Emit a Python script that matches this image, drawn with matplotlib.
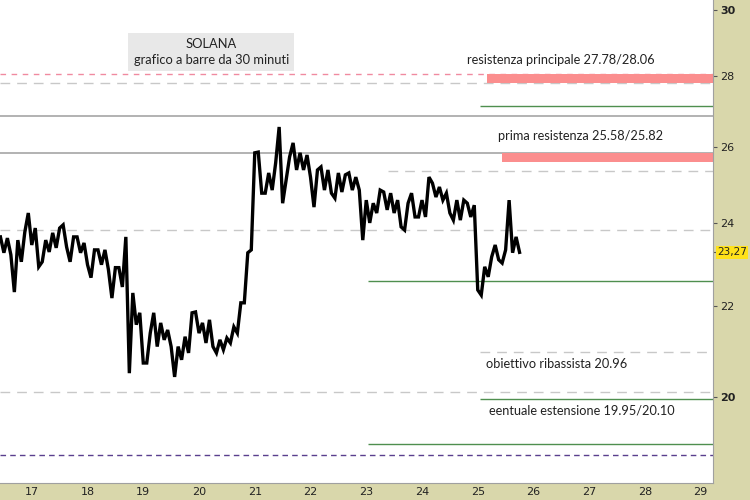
import numpy as np
import matplotlib
matplotlib.use('Agg')
import matplotlib.pyplot as plt
from matplotlib.transforms import blended_transform_factory

# barre da 3 ore (massimi / minimi)
start_day = 16.4375
bar_step = 0.125
highs = [23.65, 23.62, 23.57, 23.77, 24.25, 23.87, 23.57, 23.75, 23.87, 23.95,
         23.65, 23.65, 23.50, 23.33, 23.33, 23.33, 22.90, 22.90, 23.65, 22.30,
         21.84, 21.38, 21.84, 21.61, 21.45, 21.08, 21.30, 21.84, 21.86, 21.61,
         21.68, 21.23, 21.27, 21.52, 22.07, 23.26, 25.83, 25.85, 25.29, 25.56,
         26.54, 25.72, 26.10, 25.83, 25.77, 25.37, 25.45, 25.37, 25.29, 25.24,
         25.29, 25.18, 24.58, 24.50, 24.84, 24.79, 24.76, 24.58, 24.50, 24.76,
         24.58, 25.18, 25.02, 24.92, 24.76, 24.58, 24.58, 24.50, 24.45, 22.92,
         23.16, 23.45, 23.33, 24.58, 23.65]
lows = [23.26, 23.21, 22.32, 23.04, 23.45, 22.92, 23.04, 23.28, 23.38, 23.40,
        23.04, 23.26, 22.97, 22.66, 22.97, 22.85, 22.18, 22.44, 20.50, 21.57,
        20.72, 20.72, 21.08, 21.23, 21.08, 20.42, 20.79, 20.94, 21.38, 21.16,
        21.08, 20.94, 21.01, 21.16, 21.38, 22.07, 23.33, 24.76, 24.76, 24.84,
        24.50, 25.10, 25.37, 25.37, 25.18, 24.40, 24.84, 24.76, 24.63, 24.79,
        24.84, 24.84, 23.57, 24.00, 24.25, 24.33, 24.25, 23.90, 23.82, 24.15,
        24.15, 24.15, 24.66, 24.58, 24.25, 24.07, 24.07, 24.15, 22.37, 22.25,
        22.68, 23.09, 23.01, 23.26, 23.27]
last_price = 23.27

days = list(range(17, 30))
yticks = [20, 22, 24, 26, 28, 30]

# livelli
res_main = (27.78, 28.06)
res_first = (25.58, 25.82)
target = 20.96
ext = (19.95, 20.10)
gray_dashed_full = [27.78, 23.82, 20.10]
gray_solid_full = [26.84, 25.82]
pink_dashed = 28.06
purple_dashed = 18.81
green_lines = [(27.13, 25.04), (22.58, 23.03), (19.95, 25.04), (19.03, 23.03)]
gray_dashed_part = (25.34, 23.39)

x_lo, x_hi = 16.43, 29.22
y_lo, y_hi = 18.27, 30.32
tan = '#d9d7ab'

fig = plt.figure(figsize=(7.5, 5), dpi=100, facecolor=tan)
ax = fig.add_axes([0, 17 / 500, 713 / 750, 483 / 500])
ax.set_facecolor('white')
ax.set_yscale('log')
ax.set_xlim(x_lo, x_hi)
ax.set_ylim(y_lo, y_hi)

# linee orizzontali
for v in gray_dashed_full:
    ax.axhline(v, color='#c8c8c8', lw=1, ls=(0, (7, 5)), zorder=1)
for v in gray_solid_full:
    ax.axhline(v, color='#a6a6a6', lw=1.2, zorder=1)
ax.axhline(pink_dashed, color='#f08aa0', lw=1, ls=(0, (4, 4)), zorder=1)
ax.axhline(purple_dashed, color='#5a3f8e', lw=1, ls=(0, (4, 3)), zorder=1)
ax.hlines(gray_dashed_part[0], gray_dashed_part[1], x_hi, color='#c8c8c8', lw=1,
          ls=(0, (7, 5)), zorder=1)
ax.hlines(target, 25.04, 29.13, color='#c8c8c8', lw=1, ls=(0, (7, 5)), zorder=1)
for v, x0 in green_lines:
    ax.hlines(v, x0, x_hi, color='#4f8f4f', lw=1, zorder=1)

ax.fill_between([25.17, x_hi], res_main[0], res_main[1], color='#fb8e8e', lw=0, zorder=2)
ax.fill_between([25.43, x_hi], res_first[0], res_first[1], color='#fb8e8e', lw=0, zorder=2)

# prezzo a zigzag massimo/minimo
hi = np.array(highs)
lo = np.array(lows)
mid = (hi + lo) / 2
t = start_day + bar_step * np.arange(len(hi))
xs, ys = [], []
for i in range(len(hi)):
    nxt = mid[i + 1] if i < len(hi) - 1 else last_price
    if nxt >= mid[i]:
        pair = (lo[i], hi[i])
    else:
        pair = (hi[i], lo[i])
    xs += [t[i], t[i] + bar_step / 2]
    ys += list(pair)
ax.plot(xs, ys, color='black', lw=2.4, zorder=3, solid_joinstyle='miter')

# testi
fnt = 'Lato'
ax.text(20.22, 28.71, 'SOLANA\ngrafico a barre da 30 minuti', ha='center', va='center',
        fontsize=9.3, family=fnt, color='#222222', linespacing=1.35,
        bbox=dict(boxstyle='square,pad=0.4', fc='#e8e8e8', ec='none'), zorder=4)
ax.text(24.805, 28.47, 'resistenza principale 27.78/28.06', ha='left', va='center',
        fontsize=9.2, family=fnt, color='#222222')
ax.text(25.36, 26.30, 'prima resistenza 25.58/25.82', ha='left', va='center',
        fontsize=9.2, family=fnt, color='#222222')
ax.text(25.15, 20.69, 'obiettivo ribassista 20.96', ha='left', va='center',
        fontsize=9.2, family=fnt, color='#222222')
ax.text(25.20, 19.71, 'eentuale estensione 19.95/20.10', ha='left', va='center',
        fontsize=9.2, family=fnt, color='#222222')

# assi
for s in ['left', 'top']:
    ax.spines[s].set_visible(False)
for s in ['right', 'bottom']:
    ax.spines[s].set_color('#a0a0a0')
ax.set_xticks(days)
ax.set_xticklabels([str(d) for d in days])
ax.tick_params(axis='x', length=0, pad=3, labelsize=8, labelcolor='#222222')
ax.yaxis.tick_right()
ax.set_yticks(yticks + [last_price])
ax.yaxis.set_minor_locator(matplotlib.ticker.NullLocator())
ax.set_yticklabels([str(v) for v in yticks] + [''])
ax.tick_params(axis='y', length=3, pad=2, labelsize=8, labelcolor='#222222', color='#555555')
for lab, v in zip(ax.get_yticklabels(), yticks):
    if v % 10 == 0:
        lab.set_fontweight('bold')

tr = blended_transform_factory(ax.transAxes, ax.transData)
ax.text(1.006, last_price, '23,27', transform=tr, ha='left', va='center', fontsize=7.5,
        color='#222222', bbox=dict(boxstyle='square,pad=0.12', fc='#ffe21a', ec='none'))

fig.savefig('out.png', dpi=100, facecolor=tan)
